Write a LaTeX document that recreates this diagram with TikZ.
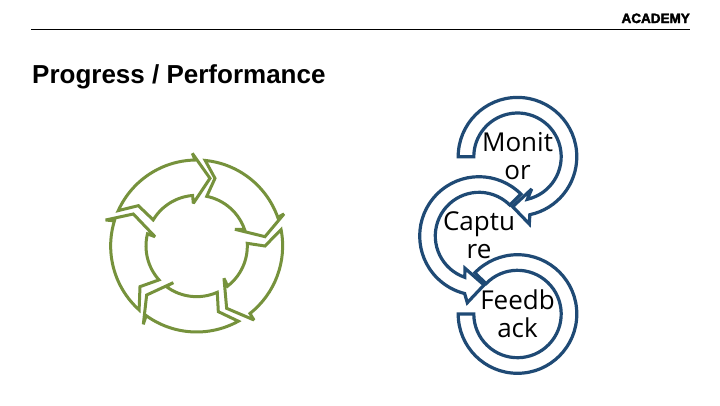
\documentclass[tikz,border=0pt]{standalone}
\usepackage{fontspec}
\usetikzlibrary{calc}
\setmainfont{Liberation Sans}
\newfontfamily\labelfont{Open Sans}
\newfontfamily\logofont[BoldFeatures={FakeBold=2.5}]{Liberation Sans}
\definecolor{ringgreen}{HTML}{76923C}
\definecolor{loopblue}{HTML}{1F4A75}
\tikzset{
  ringarrow/.style={draw=ringgreen,line width=3pt,miter limit=2.5,line join=miter},
  looparrow/.style={draw=loopblue,line width=3.2pt,miter limit=3,line join=miter},
  looplabel/.style={font=\labelfont\fontsize{26}{28}\selectfont,align=center,text=black,inner sep=0pt},
}
\begin{document}
\begin{tikzpicture}[x=1pt,y=-1pt]
\useasboundingbox (0,0) rectangle (720,405);
\fill[white] (0,0) rectangle (720,405);
\coordinate (ruleL) at (31,29);
\coordinate (ruleR) at (690,29);
\draw[line width=0.8pt,black] (ruleL) -- (ruleR);
\node[anchor=base west,inner sep=0pt,font=\bfseries\fontsize{26}{28}\selectfont] (title) at (32,83) {Progress / Performance};
\node[anchor=base east,inner sep=0pt,font=\logofont\bfseries\fontsize{13.5}{15}\selectfont] (logo) at (690,23) {ACADEMY};
% green ring, in zoom coordinates
\begin{scope}[shift={(90,140)},x=0.3333pt,y=-0.3333pt]
\coordinate (C) at (320,318);
\def\Ro{258}\def\Ri{152}
\draw[ringarrow] ($(C)+(204.3:\Ro)$) arc[start angle=204.3,end angle=269,radius=\Ro] -- (307,40) -- (360,115) -- (310,190) -- ($(C)+(265.4:\Ri)$) arc[start angle=265.4,end angle=211,radius=\Ri] -- (145,197) -- cycle;
\draw[ringarrow] ($(C)+(275.7:\Ro)$) arc[start angle=275.7,end angle=340.5,radius=\Ro] -- (582,222) -- (525,290) -- (435,268) -- ($(C)+(341:\Ri)$) arc[start angle=341,end angle=281.5,radius=\Ri] -- (375,115) -- cycle;
\draw[ringarrow] ($(C)+(-11:\Ro)$) arc[start angle=-11,end angle=51.7,radius=\Ro] -- (492,540) -- (410,505) -- (402,415) -- ($(C)+(52.3:\Ri)$) arc[start angle=52.3,end angle=-3,radius=\Ri] -- (525,318) -- cycle;
\draw[ringarrow] ($(C)+(61:\Ro)$) arc[start angle=61,end angle=126,radius=\Ro] -- (160,553) -- (170,465) -- (250,428) -- ($(C)+(127:\Ri)$) arc[start angle=127,end angle=66,radius=\Ri] -- (385,515) -- cycle;
\draw[ringarrow] ($(C)+(132:\Ro)$) arc[start angle=132,end angle=197,radius=\Ro] -- (47,240) -- (130,222) -- (195,290) -- ($(C)+(193.8:\Ri)$) arc[start angle=193.8,end angle=138,radius=\Ri] -- (150,440) -- cycle;
\end{scope}
% blue loops
\coordinate (M) at (517.5,156.7);
\coordinate (K) at (479,236);
\coordinate (F) at (517.5,314);
\def\RO{59.3}\def\RI{43.7}
\draw[looparrow] ($(M)+(180:\RO)$) arc[start angle=180,end angle=438,radius=\RO] -- (529.3,224) -- (512.7,206.7) -- (531.7,189) -- ($(M)+(437:\RI)$) arc[start angle=437,end angle=180,radius=\RI] -- cycle;
\draw[looparrow] ($(K)+(315:\RO)$) arc[start angle=315,end angle=104,radius=\RO] -- (467.3,302.7) -- (484,285) -- (465,268.3) -- ($(K)+(109:\RI)$) arc[start angle=109,end angle=315,radius=\RI] -- cycle;
\draw[looparrow] ($(F)+(180:\RO)$) arc[start angle=180,end angle=-136,radius=\RO] -- ($(F)+(-136:\RI)$) arc[start angle=-136,end angle=180,radius=\RI] -- cycle;
\node[looplabel] (monitor) at (517.5,156) {Monit\\or};
\node[looplabel] (capture) at (479,235) {Captu\\re};
\node[looplabel] (feedback) at (517.5,314) {Feedb\\ack};
\end{tikzpicture}
\end{document}
